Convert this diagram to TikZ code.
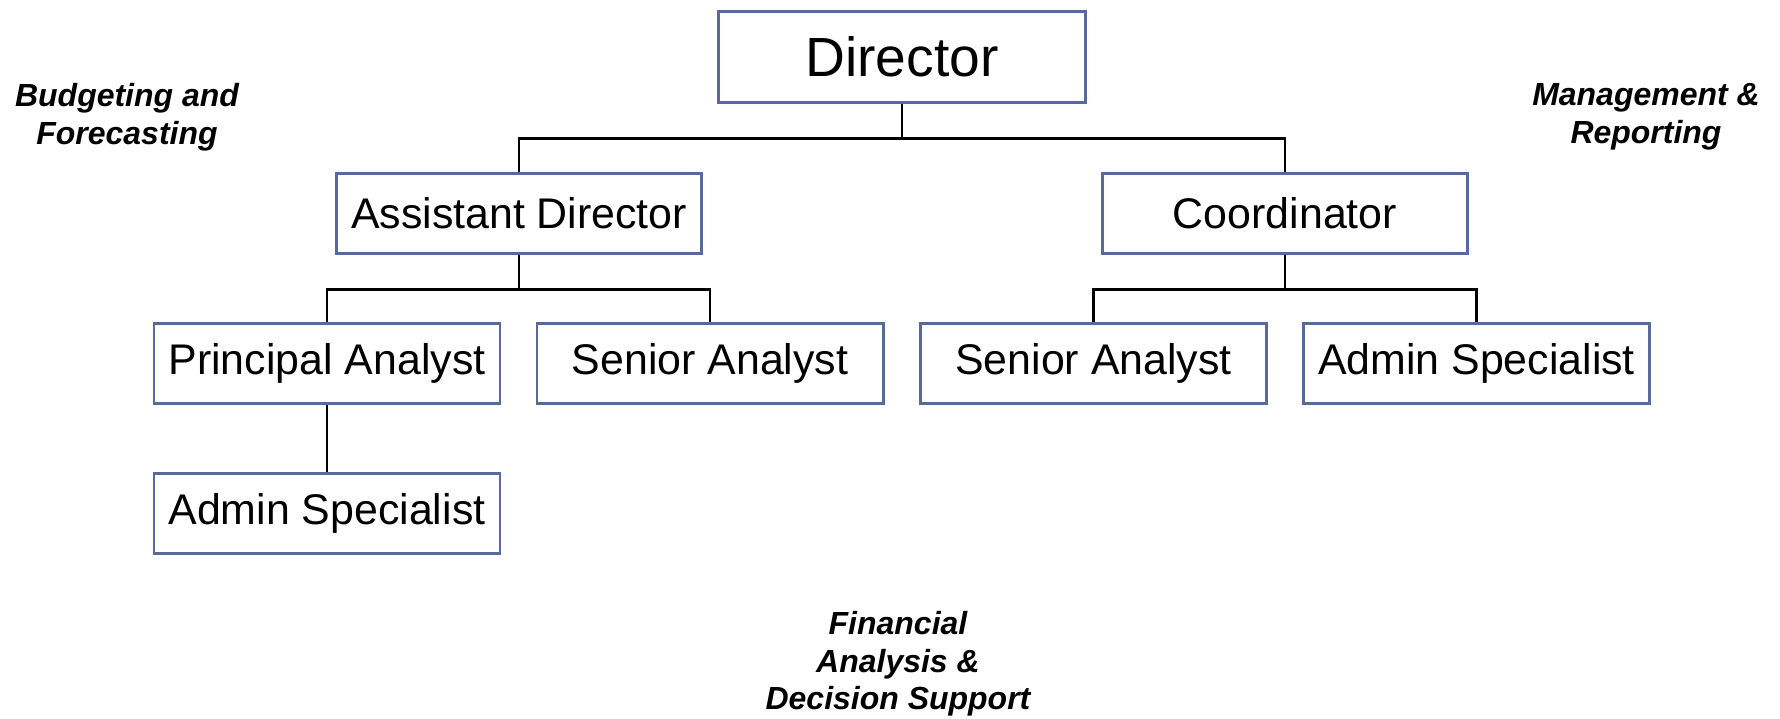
\documentclass[tikz,border=0pt]{standalone}
\usepackage{fontspec}
\setmainfont{Liberation Sans}
\usepackage{tikz}
\usetikzlibrary{positioning}
\definecolor{boxblue}{RGB}{88,106,156}

\tikzset{
  orgbox/.style={draw=boxblue, line width=0.85pt, inner sep=0pt,
                 minimum width=3.46cm, minimum height=0.8cm,
                 font=\fontsize{12.2}{14}\selectfont},
  areatext/.style={align=center, font=\fontsize{9.1}{10.7}\selectfont\bfseries\itshape},
  link/.style={black, line width=0.7pt}
}

\begin{document}
\begin{tikzpicture}

  \useasboundingbox (0,0) rectangle (17.8,-7.18);

  \node [orgbox, minimum width=3.67cm, minimum height=0.91cm,
         font=\fontsize{15.7}{18}\selectfont] (dir) at (9.02,-0.565) {Director};

  \node [orgbox, minimum width=3.65cm] (ad) at (5.19,-2.13) {Assistant Director};
  \node [orgbox, minimum width=3.65cm] (coord) at (12.85,-2.13) {Coordinator};

  \node [orgbox] (pa) at (3.27,-3.63) {Principal Analyst};
  \node [orgbox] (saL) at (7.10,-3.63) {Senior Analyst};
  \node [orgbox] (saR) at (10.935,-3.63) {Senior Analyst};
  \node [orgbox] (asR) at (14.765,-3.63) {Admin Specialist};
  \node [orgbox] (asL) at (3.27,-5.13) {Admin Specialist};

  \node [areatext] (budget) at (1.27,-1.17) {Budgeting and\\ Forecasting};
  \node [areatext] (mgmt) at (16.46,-1.17) {Management \&\\ Reporting};
  \node [areatext] (fin) at (8.98,-6.64) {Financial\\ Analysis \&\\ Decision Support};

  % connectors
  \draw [link] (dir.south) -- ++(0,-0.35) -| (ad.north);
  \draw [link] (dir.south) -- ++(0,-0.35) -| (coord.north);

  \draw [link] (ad.south) -- ++(0,-0.35) -| (pa.north);
  \draw [link] (ad.south) -- ++(0,-0.35) -| (saL.north);

  \draw [link] (coord.south) -- ++(0,-0.35) -| (saR.north);
  \draw [link] (coord.south) -- ++(0,-0.35) -| (asR.north);

  \draw [link] (pa.south) -- (asL.north);

\end{tikzpicture}
\end{document}
